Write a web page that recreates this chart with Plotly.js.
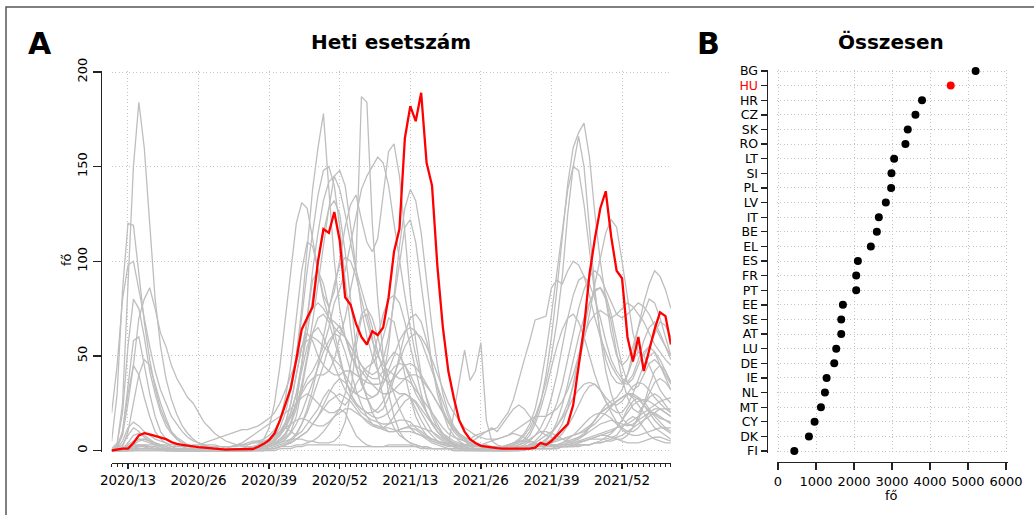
<!DOCTYPE html>
<html><head><meta charset="utf-8">
<script src="https://cdn.plot.ly/plotly-3.0.1.min.js"></script>
<style>html,body{margin:0;padding:0;background:#fff}#chart{width:1034px;height:515px}</style>
</head><body><div id="chart"></div>
<script>
// ---- Panel A: weekly values (index 0 = 2020/10 ... index 103) ----
const weekTickIdx = [3, 16, 29, 42, 55, 68, 81, 94];
const weekTickText = ['2020/13', '2020/26', '2020/39', '2020/52', '2021/13', '2021/26', '2021/39', '2021/52'];
const yTicksA = [0, 50, 100, 150, 200];

const wk_HU = [
 0,0.5,1,1,4,8,9.2,8.5,7.6,7,6,4.5,3.5,
 3,2.5,2,1.8,1.5,1.2,1,0.7,0.5,0.6,0.7,0.6,0.5,0.8,2,
 3.5,5.5,9,16,24,33,48,64,70,76, 100,117,115,126,111,81,77,67,60,56, 63,61,65,81,105,117,165,182,174,189, 152,140,97,65,42,28,16,10,6,4, 2.5,2,1.5,
 1.2,1,1,0.8,1,0.8,1,1.5,4,3,
 5,8,11,14,24,45,65,93,112,128, 137,113,95,91,60,47,60,42,53,64, 73,71,56];

const wk_BG = [
 0,0,0,0,1,1,1,1,1,1,1,1,1,
 1,1,2,2,3,3,3,2,2,2,3,3,4,5,5,
 6,8,11,16,24,35,50,70,95,115, 135,148,150,140,118,90,65,45,35,30, 28,30,38,55,80,108,128,138,132,115, 90,65,45,30,20,13,9,7,5,4, 3,3,2,
 2,2,2,3,4,6,10,16,25,40,
 60,85,115,141,160,168,173,155,125,100, 80,62,50,45,48,55,65,72,80,78, 70,60,50];
const wk_HR = [
 0,0,0,1,2,3,3,2,2,1,1,1,0,
 0,0,0,1,1,1,1,1,2,2,3,3,3,4,4,
 5,6,8,10,14,20,30,45,62,80, 100,115,128,132,125,105,80,55,38,28, 22,20,22,28,38,50,62,70,72,68, 58,45,33,22,15,10,7,5,3,2, 2,1,1,
 1,1,1,1,2,2,3,5,8,12,
 18,25,35,48,62,75,85,92,95,92, 85,78,72,70,72,75,78,76,72,66, 60,55,50];
const wk_CZ = [
 0,0,0,0,0,1,1,1,1,1,0,0,0,
 0,0,0,0,0,0,0,0,0,0,0,1,1,2,3,
 6,12,25,45,70,95,120,131,128,112, 95,82,76,84,100,118,130,135,122,110, 105,112,135,158,162,145,115,82,58,40, 27,18,12,8,5,3,2,2,1,1, 1,1,0,
 0,0,0,1,1,1,2,2,3,4,
 6,9,14,22,35,50,65,78,85,86, 80,68,52,38,28,22,20,24,30,36, 38,36,32];
const wk_SK = [
 0,0,0,0,0,0,0,0,0,0,0,0,0,
 0,0,0,0,0,0,0,0,0,0,0,0,0,1,1,
 2,3,5,8,12,18,25,32,38,42, 48,55,65,78,85,95,110,125,138,145, 150,155,152,140,120,100,82,65,50,38, 28,20,14,9,6,4,3,2,1,1, 1,1,0,
 0,0,0,0,1,1,2,3,4,6,
 9,13,18,25,34,45,58,72,88,102, 115,122,118,100,80,62,52,50,55,62, 68,66,60];
const wk_RO = [
 0,0,1,1,2,2,3,3,3,3,3,2,2,
 2,2,3,3,4,5,6,7,8,9,10,11,11,12,13,
 15,17,20,25,32,40,48,55,58,60, 58,55,52,48,45,40,35,30,28,27, 28,30,35,42,50,58,63,65,63,58, 50,42,33,25,18,12,8,6,4,3, 2,2,2,
 1,1,2,3,5,8,12,18,26,36,
 50,68,92,125,150,166,150,118,85,60, 42,30,22,17,14,13,16,24,34,42, 45,42,36];
const wk_LT = [
 0,0,0,0,0,1,1,1,1,1,1,0,0,
 0,0,0,0,0,0,0,0,0,0,0,0,0,1,1,
 2,3,4,6,9,14,22,35,50,68, 88,108,128,145,148,140,118,95,75,60, 50,42,38,36,38,42,45,46,44,40, 35,30,25,20,16,12,9,7,6,8, 9,10,11,
 12,16,20,27,38,48,58,69,70,71,
 86,90,88,95,100,98,92,82,70,60, 52,45,40,36,35,38,45,52,55,52, 45,38,32];
const wk_SI = [
 0,0,1,2,4,6,6,5,4,3,2,1,1,
 1,0,0,0,0,0,0,0,0,0,0,0,0,1,1,
 2,3,4,6,9,15,25,45,70,95, 115,132,142,145,138,125,110,95,85,75, 65,52,42,35,32,30,30,28,25,20, 15,10,7,5,3,2,2,1,1,1, 1,1,1,
 1,1,1,1,2,3,5,8,12,18,
 28,40,55,70,82,90,92,88,80,70, 58,48,42,38,36,40,48,58,65,68, 62,55,48];
const wk_PL = [
 0,0,0,0,1,1,1,1,1,1,1,1,1,
 1,1,1,1,1,1,1,1,1,1,1,1,2,2,3,
 4,6,10,16,28,45,70,95,110,108, 95,80,70,65,62,60,55,50,45,42, 40,42,48,60,80,100,118,122,110,88, 65,45,30,20,12,8,5,3,2,1, 1,1,1,
 0,0,0,0,0,1,1,2,3,5,
 9,15,24,35,48,60,70,78,84,86, 82,72,58,45,36,32,34,40,46,48, 45,40,35];
const wk_LV = [
 0,0,0,0,0,0,0,0,0,0,0,0,0,
 0,0,0,0,0,0,0,0,0,0,0,0,0,0,1,
 1,1,2,3,4,6,9,14,22,32, 45,60,75,88,98,102,100,92,80,68, 58,50,45,42,40,38,38,40,40,38, 34,30,25,20,15,11,8,6,4,3, 3,2,2,
 2,2,3,4,6,9,14,22,35,52,
 72,95,118,138,150,148,130,105,82,62, 48,40,36,35,40,52,66,78,88,95, 92,85,75];
const wk_IT = [
 20,45,80,98,100,85,68,55,42,32,25,18,14,
 10,7,5,4,3,2,2,1,1,1,1,1,1,1,1,
 2,3,5,8,14,25,40,55,68,75, 78,75,70,68,65,60,55,50,45,40, 38,38,42,48,52,50,45,38,30,25, 20,15,12,9,7,5,4,3,3,2, 2,2,2,
 2,2,2,2,2,2,3,3,3,4,
 4,5,6,7,8,9,11,13,16,20, 24,26,28,32,40,48,52,50,45,38, 32,28,25];
const wk_BE = [
 0,3,25,85,150,184,160,120,80,55,38,27,19,
 13,9,6,4,3,2,2,2,2,2,2,3,3,4,5,
 4,6,8,12,20,32,50,75,105,138, 160,178,138,100,75,60,50,45,42,38, 35,32,30,30,32,35,38,36,32,28, 24,20,16,12,9,7,6,5,4,3, 3,2,2,
 2,2,2,2,2,2,3,4,6,8,
 10,13,17,22,28,32,35,36,35,32, 28,25,24,26,30,34,36,35,32,28, 25,22,20];
const wk_EL = [
 0,0,0,1,1,2,2,1,1,1,0,0,0,
 0,0,0,0,0,0,0,0,0,0,0,0,1,1,1,
 2,3,4,5,7,10,18,32,48,62, 70,72,68,58,48,38,30,25,22,20, 20,22,26,32,40,48,55,60,62,60, 55,48,40,32,25,20,16,12,10,8, 7,6,6,
 6,7,8,10,12,14,16,18,18,18,
 20,22,26,32,40,50,60,68,72,74, 72,70,72,75,78,76,72,68,62,56, 52,48,45];
const wk_ES = [
 5,30,85,120,119,92,68,48,33,22,15,10,7,
 5,3,2,2,1,1,1,1,1,2,3,4,6,8,10,
 12,14,16,18,20,22,25,28,30,28, 25,22,20,20,22,30,45,60,72,75, 70,60,48,38,30,22,16,12,9,8, 7,6,5,4,4,3,3,3,3,3, 3,4,5,
 6,7,8,9,8,7,5,4,3,3,
 3,3,3,3,3,4,5,6,7,8, 9,10,12,16,22,26,28,26,22,18, 15,12,10];
const wk_FR = [
 1,4,20,55,80,75,60,42,30,20,13,9,6,
 4,3,2,2,1,1,1,1,1,1,1,1,1,2,2,
 3,5,7,10,15,25,40,55,62,58, 50,45,42,40,40,42,42,40,38,36, 35,35,36,40,44,46,45,40,34,27, 20,14,10,7,5,4,3,3,2,2, 2,2,2,
 2,2,3,4,5,5,5,4,3,3,
 3,3,3,4,5,7,9,12,16,20, 22,24,26,28,30,30,28,24,20,16, 13,11,9];
const wk_PT = [
 0,1,5,12,15,13,10,8,6,5,4,3,3,
 2,2,2,2,2,2,1,1,1,1,1,1,1,2,2,
 3,4,6,9,12,18,24,30,35,38, 40,40,42,48,60,70,85,99,187,184, 120,80,50,30,18,10,6,4,3,2, 2,1,1,1,1,1,1,1,1,1, 1,2,2,
 2,2,3,4,5,5,4,3,3,2,
 2,2,2,2,2,2,3,3,4,5, 7,9,12,16,20,24,26,27,26,24, 22,20,18];
const wk_EE = [
 0,0,0,1,2,3,3,2,2,1,1,0,0,
 0,0,0,0,0,0,0,0,0,0,0,0,0,0,0,
 0,1,1,2,3,4,6,8,10,14, 18,24,30,35,38,36,32,30,32,38, 48,60,72,80,82,78,68,55,42,30, 20,14,10,7,5,3,2,2,1,1, 1,1,1,
 1,1,2,2,3,5,8,14,22,32,
 44,55,64,70,72,68,60,50,40,32, 26,22,20,20,24,30,38,45,50,52, 48,42,36];
const wk_SE = [
 0,2,8,25,45,70,80,86,75,62,55,45,38,
 33,28,25,20,15,12,9,7,5,4,3,2,2,2,2,
 2,2,3,4,6,9,14,20,28,36, 45,52,58,62,60,52,42,32,24,18, 14,12,11,10,10,11,12,12,11,9, 7,5,4,3,2,2,1,1,1,1, 1,1,1,
 1,1,1,1,1,1,1,1,1,1,
 1,1,2,2,2,3,3,3,4,4, 5,5,6,6,8,12,18,24,28,30, 28,24,20];
const wk_AT = [
 0,1,3,8,12,10,7,5,3,2,1,1,0,
 0,0,0,0,0,0,0,0,0,0,0,0,1,1,1,
 1,2,3,5,8,14,25,45,70,90, 95,88,75,62,50,38,30,25,22,20, 18,17,18,20,24,28,30,28,22,16, 11,8,5,4,3,2,1,1,1,0, 0,0,0,
 0,0,0,1,1,1,1,2,2,3,
 4,6,9,13,18,24,30,34,35,32, 26,20,15,12,10,10,12,16,20,22, 22,20,18];
const wk_LU = [
 0,2,10,30,45,40,28,18,10,6,4,2,1,
 1,0,0,0,0,0,0,0,0,0,1,1,1,1,2,
 2,3,5,8,12,20,30,42,55,62, 65,60,52,45,38,32,28,24,20,18, 16,15,14,14,15,16,16,15,12,10, 8,6,5,4,3,2,2,2,1,1, 1,1,1,
 1,1,1,1,1,1,1,2,2,2,
 3,3,4,5,6,7,8,10,12,14, 15,16,15,14,13,14,16,18,20,20, 18,16,14];
const wk_DE = [
 0,0,1,3,5,6,5,4,3,2,1,1,1,
 1,0,0,0,0,0,0,0,0,0,0,0,0,0,0,
 0,1,1,2,3,5,8,14,20,28, 36,45,55,62,66,60,52,44,36,28, 20,15,12,10,10,11,12,13,13,12, 11,10,8,6,4,3,2,1,1,1, 0,0,0,
 0,0,0,0,0,1,1,1,1,2,
 2,3,4,6,8,11,14,17,19,20, 19,17,14,11,9,8,8,9,10,11, 12,12,12];
const wk_IE = [
 0,0,2,10,25,40,48,45,35,25,17,10,6,
 4,3,2,2,1,1,1,0,0,0,0,0,0,1,1,
 1,2,3,4,5,6,6,6,5,5, 4,4,4,5,8,15,30,55,70,72, 60,42,28,18,12,8,6,4,3,2, 2,1,1,1,1,1,1,0,0,0, 0,0,0,
 0,1,1,1,2,2,3,3,3,3,
 3,3,3,4,4,5,5,6,6,6, 6,7,8,12,16,18,16,12,8,6, 5,4,4];
const wk_NL = [
 0,1,10,35,58,60,45,30,18,10,6,4,2,
 2,1,1,0,0,0,0,0,0,0,0,0,0,1,2,
 3,5,8,10,12,14,16,17,16,14, 13,13,15,18,20,22,22,20,18,16, 14,13,12,12,11,10,10,10,9,8, 6,4,3,2,1,1,1,1,1,1, 1,1,1,
 1,1,1,1,1,1,1,1,1,1,
 1,1,2,2,3,4,5,6,7,8, 8,7,6,5,4,4,4,5,6,7, 7,6,5];
const wk_MT = [
 0,0,0,0,1,2,2,1,1,0,0,0,0,
 0,0,0,0,0,0,0,0,0,0,0,0,0,0,2,
 4,6,8,10,12,10,8,10,14,18, 22,28,32,30,26,24,28,35,40,44, 46,50,60,70,68,55,40,28,18,12, 8,5,4,3,3,20,35,53,37,42, 57,16,5,
 3,2,2,2,3,4,6,8,10,10,
 9,8,6,5,5,6,8,12,16,20, 22,24,26,28,30,28,24,20,16,12, 10,8,6];
const wk_CY = [
 0,0,1,2,3,3,2,2,1,1,0,0,0,
 0,0,0,0,0,0,0,0,0,0,0,0,0,0,0,
 0,1,1,2,3,4,6,8,10,14, 18,22,26,28,30,28,26,22,18,15, 13,12,12,14,18,22,26,28,26,22, 18,14,10,7,5,4,3,3,4,6, 8,10,12,
 10,14,18,22,24,22,18,14,10,8,
 7,6,6,7,8,9,10,12,14,17, 20,23,26,28,30,29,27,24,21,19, 17,16,15];
const wk_DK = [
 0,0,1,4,8,9,8,6,4,3,2,1,1,
 1,0,0,0,0,0,0,0,0,0,0,0,0,0,1,
 1,1,1,2,2,2,3,3,4,5, 7,10,14,18,22,20,14,8,5,3, 2,2,2,2,2,2,2,2,2,1, 1,1,1,1,1,0,0,0,0,0, 0,0,0,
 0,0,0,0,0,1,1,1,1,1,
 1,2,2,3,4,5,6,7,8,9, 10,11,12,13,14,16,18,20,22,24, 26,27,28];
const wk_FI = [
 0,0,0,1,3,5,6,5,4,3,2,1,1,
 0,0,0,0,0,0,0,0,0,0,0,0,0,0,0,
 0,0,0,1,1,1,2,2,3,3, 3,3,3,3,3,3,2,2,2,2, 2,2,2,3,3,3,3,3,2,2, 1,1,1,1,1,0,0,0,0,0, 0,0,0,
 0,0,0,0,0,0,1,1,1,1,
 1,1,2,2,3,3,3,3,4,4, 5,6,7,8,10,12,14,16,18,20, 22,22,22];

const grayNames = ['BG','HR','CZ','SK','RO','LT','SI','PL','LV','IT','BE','EL','ES','FR','PT','EE','SE','AT','LU','DE','IE','NL','MT','CY','DK','FI'];
const graySeries = [wk_BG,wk_HR,wk_CZ,wk_SK,wk_RO,wk_LT,wk_SI,wk_PL,wk_LV,wk_IT,wk_BE,wk_EL,wk_ES,wk_FR,wk_PT,wk_EE,wk_SE,wk_AT,wk_LU,wk_DE,wk_IE,wk_NL,wk_MT,wk_CY,wk_DK,wk_FI];

// ---- Panel B: totals ----
const countries = ['BG','HU','HR','CZ','SK','RO','LT','SI','PL','LV','IT','BE','EL','ES','FR','PT','EE','SE','AT','LU','DE','IE','NL','MT','CY','DK','FI'];
const totals = [5200,4545,3790,3617,3415,3354,3056,2986,2977,2837,2653,2601,2443,2102,2058,2058,1708,1664,1664,1532,1480,1279,1235,1130,963,814,429];
const xTicksB = [0,1000,2000,3000,4000,5000,6000];

// ---- drawing ----
const W = 1034, H = 515;
const px = v => v / W;
const py = v => 1 - v / H;

[...graySeries, wk_HU].forEach((s, k) => { if (s.length !== 104) console.error('length', k, s.length); });

const traces = [];
graySeries.forEach((s, k) => {
  traces.push({type:'scatter', mode:'lines', name:grayNames[k], x:s.map((_, i) => i), y:s,
    xaxis:'x', yaxis:'y', line:{color:'#bebebe', width:1.3}, hoverinfo:'skip', cliponaxis:false});
});
traces.push({type:'scatter', mode:'lines', name:'HU', x:wk_HU.map((_, i) => i), y:wk_HU,
  xaxis:'x', yaxis:'y', line:{color:'#ff0000', width:2.3}, cliponaxis:false});
traces.push({type:'scatter', mode:'markers', x:totals, y:countries, xaxis:'x2', yaxis:'y2',
  marker:{size:8, color:countries.map(c => c === 'HU' ? '#ff0000' : '#000000')}, cliponaxis:false});

const axCommon = {showline:true, linecolor:'#222', linewidth:1.3, ticks:'outside', tickcolor:'#222', tickwidth:1.3,
  showgrid:true, gridcolor:'#c4c4c4', griddash:'1px,2.5px', gridwidth:1, zeroline:false, anchor:'free'};

const FAM = 'DejaVu Sans, Verdana, sans-serif';
const titleFont = {family:FAM, size:20, color:'#000'};
const letterFont = {family:FAM, size:30, color:'#000'};

const layout = {
  width:W, height:H, margin:{l:0, r:0, t:0, b:0}, showlegend:false,
  paper_bgcolor:'#ffffff', plot_bgcolor:'#ffffff',
  font:{family:FAM, size:13, color:'#000'},
  xaxis: Object.assign({}, axCommon, {domain:[px(111.7), px(670.9)], range:[0,103], position:py(462.7),
    ticklen:5, tickmode:'array', tickvals:weekTickIdx, ticktext:weekTickText, tickfont:{family:FAM, size:13.5, color:'#000'},
    minor:{tickmode:'linear', tick0:0, dtick:1, ticks:'outside', ticklen:3, tickwidth:1, tickcolor:'#222', showgrid:false}}),
  yaxis: Object.assign({}, axCommon, {domain:[py(452), py(70.5)], range:[-1.5/1.8925, 200 + 1.5/1.8925], position:px(100.5),
    ticklen:8, tickmode:'array', tickvals:yTicksA, ticktext:yTicksA.map(String), tickangle:-90, tickfont:{family:FAM, size:13, color:'#000'}}),
  xaxis2: Object.assign({}, axCommon, {domain:[px(776.5), px(1007.5)], range:[-39.47, 6039.47], position:py(462),
    ticklen:7, tickmode:'array', tickvals:xTicksB, ticktext:xTicksB.map(String), tickfont:{family:FAM, size:13, color:'#000'}}),
  yaxis2: Object.assign({}, axCommon, {domain:[py(452.5), py(69.5)], type:'category', categoryorder:'array', categoryarray:countries,
    range:[26 + 1.5/14.615, -1.5/14.615], position:px(766.5), ticklen:6, tickmode:'array', tickvals:countries,
    ticktext:countries.map(c => c === 'HU' ? '<span style="color:#ff0000">HU</span>' : c),
    tickfont:{family:FAM, size:12.5, color:'#000'}}),
  annotations: [
    {text:'<b>A</b>', x:px(39.5), y:py(43), xref:'paper', yref:'paper', showarrow:false, xanchor:'center', yanchor:'middle', font:letterFont},
    {text:'<b>B</b>', x:px(708), y:py(43), xref:'paper', yref:'paper', showarrow:false, xanchor:'center', yanchor:'middle', font:letterFont},
    {text:'<b>Heti esetszám</b>', x:px(391), y:py(42), xref:'paper', yref:'paper', showarrow:false, xanchor:'center', yanchor:'middle', font:titleFont},
    {text:'<b>Összesen</b>', x:px(891), y:py(42), xref:'paper', yref:'paper', showarrow:false, xanchor:'center', yanchor:'middle', font:titleFont},
    {text:'fő', x:px(66), y:py(260), xref:'paper', yref:'paper', showarrow:false, xanchor:'center', yanchor:'middle', textangle:-90, font:{family:FAM, size:13, color:'#000'}},
    {text:'fő', x:px(891), y:py(495), xref:'paper', yref:'paper', showarrow:false, xanchor:'center', yanchor:'middle', font:{family:FAM, size:13, color:'#000'}}
  ],
  shapes: [
    {type:'rect', xref:'paper', yref:'paper', x0:px(6), x1:px(1045), y0:py(7), y1:py(530), line:{color:'#555', width:1.5}, fillcolor:'rgba(0,0,0,0)', layer:'below'}
  ]
};

Plotly.newPlot('chart', traces, layout, {staticPlot:true, displayModeBar:false});
</script>
</body></html>
